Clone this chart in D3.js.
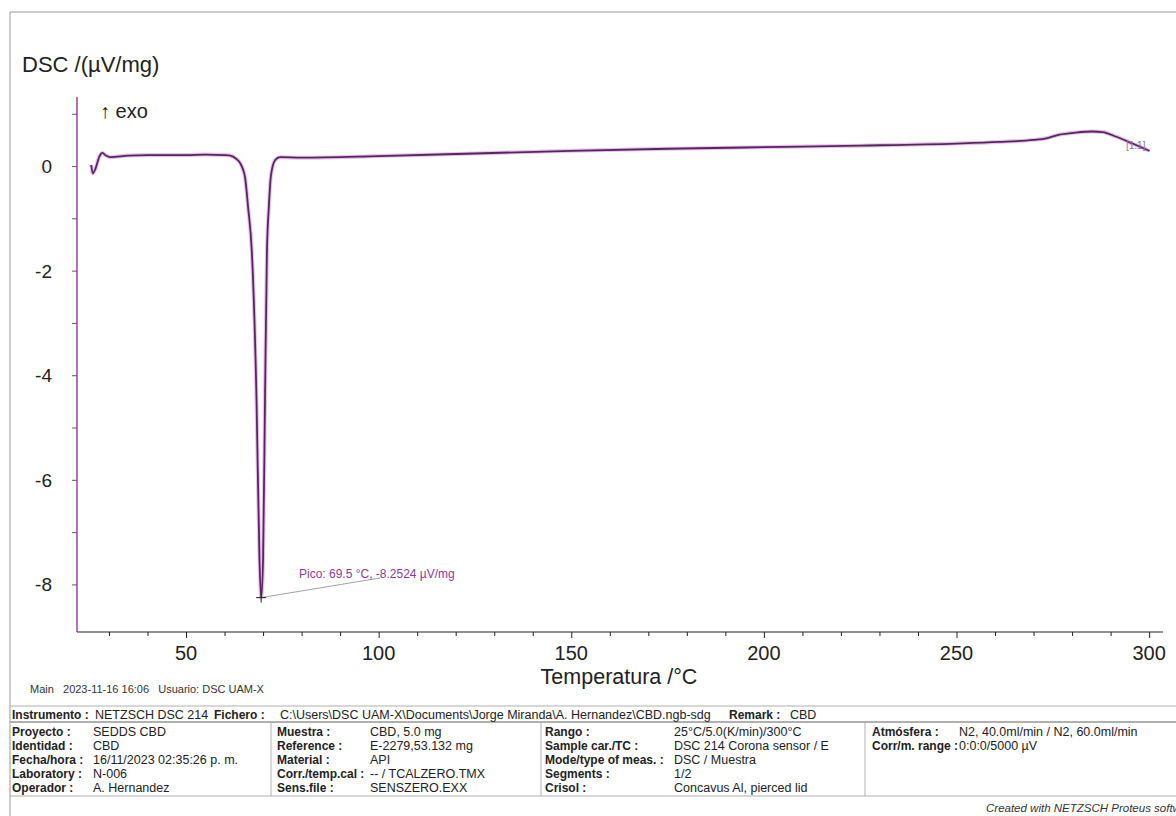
<!DOCTYPE html>
<html>
<head>
<meta charset="utf-8">
<script src="https://cdn.jsdelivr.net/npm/d3@7"></script>
<style>
  body { margin: 0; background: #fff; }
  svg { display: block; font-family: Arial, "Liberation Sans", sans-serif; }
</style>
</head>
<body>
<div id="chart"></div>
<script>
// Temperatura (°C) y señal DSC (µV/mg)
const temperatura = [25.4, 25.8, 26.5, 27.5, 28.3, 29.2, 30.3, 35, 40, 45, 50, 55, 60, 61.5, 63, 64, 65.3, 66.1, 67.1, 68.3, 69.07, 69.5, 70.0, 70.5, 71.0, 71.5, 72.0, 73.1, 74.4, 80, 100, 125, 150, 175, 200, 225, 250, 261, 270, 273.3, 276.7, 281, 285.3, 287.9, 291.5, 295.7, 300.1];
const dsc = [0.02, -0.14, -0.05, 0.18, 0.25, 0.20, 0.17, 0.20, 0.21, 0.21, 0.21, 0.22, 0.21, 0.20, 0.14, 0.06, -0.21, -0.78, -1.66, -4.47, -7.53, -8.25, -7.53, -4.47, -1.66, -0.78, -0.21, 0.11, 0.17, 0.16, 0.19, 0.24, 0.29, 0.33, 0.36, 0.39, 0.43, 0.46, 0.50, 0.53, 0.60, 0.64, 0.66, 0.65, 0.56, 0.43, 0.29];

const xTicks = [50, 100, 150, 200, 250, 300];
const yTicks = [0, -2, -4, -6, -8];
const pico = { t: 69.5, v: -8.2524 };

// Tabla de información inferior
const headerRow = [
  ["Instrumento :", "NETZSCH DSC 214"],
  ["Fichero :", "C:\\Users\\DSC UAM-X\\Documents\\Jorge Miranda\\A. Hernandez\\CBD.ngb-sdg"],
  ["Remark :", "CBD"]
];
const infoCol1 = [["Proyecto :", "SEDDS CBD"], ["Identidad :", "CBD"], ["Fecha/hora :", "16/11/2023 02:35:26 p. m."], ["Laboratory :", "N-006"], ["Operador :", "A. Hernandez"]];
const infoCol2 = [["Muestra :", "CBD, 5.0 mg"], ["Reference :", "E-2279,53.132 mg"], ["Material :", "API"], ["Corr./temp.cal :", "-- / TCALZERO.TMX"], ["Sens.file :", "SENSZERO.EXX"]];
const infoCol3 = [["Rango :", "25°C/5.0(K/min)/300°C"], ["Sample car./TC :", "DSC 214 Corona sensor / E"], ["Mode/type of meas. :", "DSC / Muestra"], ["Segments :", "1/2"], ["Crisol :", "Concavus Al, pierced lid"]];
const infoCol4 = [["Atmósfera :", "N2, 40.0ml/min / N2, 60.0ml/min"], ["Corr/m. range :", "0:0:0/5000 µV"]];

const W = 1176, H = 816;
const svg = d3.select("#chart").append("svg").attr("width", W).attr("height", H);

// marco gris
svg.append("path")
  .attr("d", `M10,${H} L10,12 L${W},12`)
  .attr("fill", "none").attr("stroke", "#9a9a9a").attr("stroke-width", 1);

const plot = { left: 77, right: 1163, top: 97, bottom: 632 };

const x = d3.scaleLinear().domain([21.7, 303.6]).range([plot.left, plot.right]);
const y = d3.scaleLinear().domain([-8.91, 1.32]).range([plot.bottom, plot.top]);

// Eje X
const xAxis = svg.append("g")
  .attr("transform", `translate(0,${plot.bottom})`)
  .call(d3.axisBottom(x).tickValues(d3.range(30, 301, 10)).tickSize(4).tickFormat(""));
xAxis.select(".domain").attr("stroke", "#222").attr("stroke-width", 1.2)
  .attr("d", `M${plot.left},0H${plot.right}`);
xAxis.selectAll(".tick line").attr("stroke", "#222");
xAxis.selectAll(".tick")
  .filter(d => xTicks.includes(d))
  .select("line").attr("y2", 6);
svg.append("g")
  .selectAll("text")
  .data(xTicks)
  .enter()
  .append("text")
  .attr("x", d => x(d))
  .attr("y", 660)
  .attr("text-anchor", "middle")
  .attr("font-size", 20)
  .attr("fill", "#222")
  .text(d => d);

svg.append("text")
  .attr("x", 619).attr("y", 684)
  .attr("text-anchor", "middle")
  .attr("font-size", 21.5)
  .attr("fill", "#222")
  .text("Temperatura /°C");

// Eje Y (morado)
const yAxis = svg.append("g")
  .attr("transform", `translate(${plot.left},0)`)
  .call(d3.axisLeft(y).tickValues(d3.range(-8, 2, 1)).tickSize(5).tickFormat(""));
yAxis.select(".domain").attr("stroke", "#8a3d8f").attr("stroke-width", 1.4)
  .attr("d", `M0,${plot.top}V${plot.bottom}`);
yAxis.selectAll(".tick line").attr("stroke", "#8a3d8f");
svg.append("g")
  .selectAll("text")
  .data(yTicks)
  .enter()
  .append("text")
  .attr("x", 52)
  .attr("y", d => y(d) + 7)
  .attr("text-anchor", "end")
  .attr("font-size", 19)
  .attr("fill", "#222")
  .text(d => d);

svg.append("text")
  .attr("x", 22).attr("y", 72)
  .attr("font-size", 22)
  .attr("fill", "#222")
  .text("DSC /(µV/mg)");

svg.append("text")
  .attr("x", 100).attr("y", 118)
  .attr("font-size", 20)
  .attr("fill", "#222")
  .text("↑ exo");

// Curva DSC
const points = temperatura.map((t, i) => [t, dsc[i]]);
const line = d3.line().x(d => x(d[0])).y(d => y(d[1])).curve(d3.curveMonotoneX);

svg.append("path")
  .datum(points)
  .attr("d", line)
  .attr("fill", "none")
  .attr("stroke", "#e6c3ea")
  .attr("stroke-width", 4);
svg.append("path")
  .datum(points)
  .attr("d", line)
  .attr("fill", "none")
  .attr("stroke", "#5a2463")
  .attr("stroke-width", 1.8);

// Pico
const px = x(pico.t), py = y(pico.v);
svg.append("line")
  .attr("x1", px).attr("y1", py)
  .attr("x2", 380).attr("y2", 578)
  .attr("stroke", "#8a8a8a").attr("stroke-width", 0.8);
svg.append("path")
  .attr("d", `M${px - 5},${py}H${px + 5}M${px},${py - 5}V${py + 5}`)
  .attr("stroke", "#222").attr("stroke-width", 1);
svg.append("text")
  .attr("x", 299).attr("y", 578)
  .attr("font-size", 12)
  .attr("fill", "#8b3c98")
  .text(`Pico: ${pico.t} °C, ${pico.v} µV/mg`);

svg.append("text")
  .attr("x", 1126).attr("y", 149)
  .attr("font-size", 10)
  .attr("fill", "#8a7a9a")
  .text("[1.1]");

// Pie
svg.append("text")
  .attr("x", 30).attr("y", 693)
  .attr("font-size", 11)
  .attr("fill", "#333")
  .attr("xml:space", "preserve")
  .text("Main   2023-11-16 16:06   Usuario: DSC UAM-X");

// Tabla
const grid = svg.append("g").attr("stroke", "#b0b0b0").attr("stroke-width", 1);
grid.append("line").attr("x1", 10).attr("x2", W).attr("y1", 706).attr("y2", 706);
grid.append("line").attr("x1", 10).attr("x2", W).attr("y1", 722).attr("y2", 722).attr("stroke-width", 2);
grid.append("line").attr("x1", 10).attr("x2", W).attr("y1", 796).attr("y2", 796);
[271, 541, 865].forEach(sx => {
  grid.append("line").attr("x1", sx).attr("x2", sx).attr("y1", 722).attr("y2", 796);
});

const lblSize = 12, valSize = 12.5;
const headerPos = [[12, 95], [214, 280], [729, 790]];
headerRow.forEach((d, i) => {
  svg.append("text").attr("x", headerPos[i][0]).attr("y", 719)
    .attr("font-size", lblSize).attr("font-weight", "bold").attr("fill", "#222").text(d[0]);
  svg.append("text").attr("x", headerPos[i][1]).attr("y", 719)
    .attr("font-size", valSize).attr("fill", "#222").text(d[1]);
});

const cols = [[infoCol1, 12, 93], [infoCol2, 277, 370], [infoCol3, 545, 674], [infoCol4, 872, 959]];
cols.forEach(([rows, lx, vx]) => {
  const g = svg.append("g");
  g.selectAll(".lbl")
    .data(rows)
    .enter()
    .append("text")
    .attr("x", lx)
    .attr("y", (d, i) => 736 + i * 14)
    .attr("font-size", lblSize)
    .attr("font-weight", "bold")
    .attr("fill", "#222")
    .text(d => d[0]);
  g.selectAll(".val")
    .data(rows)
    .enter()
    .append("text")
    .attr("x", vx)
    .attr("y", (d, i) => 736 + i * 14)
    .attr("font-size", valSize)
    .attr("fill", "#222")
    .text(d => d[1]);
});

svg.append("text")
  .attr("x", 986).attr("y", 812)
  .attr("font-size", 11.5)
  .attr("font-style", "italic")
  .attr("fill", "#333")
  .text("Created with NETZSCH Proteus software");
</script>
</body>
</html>
